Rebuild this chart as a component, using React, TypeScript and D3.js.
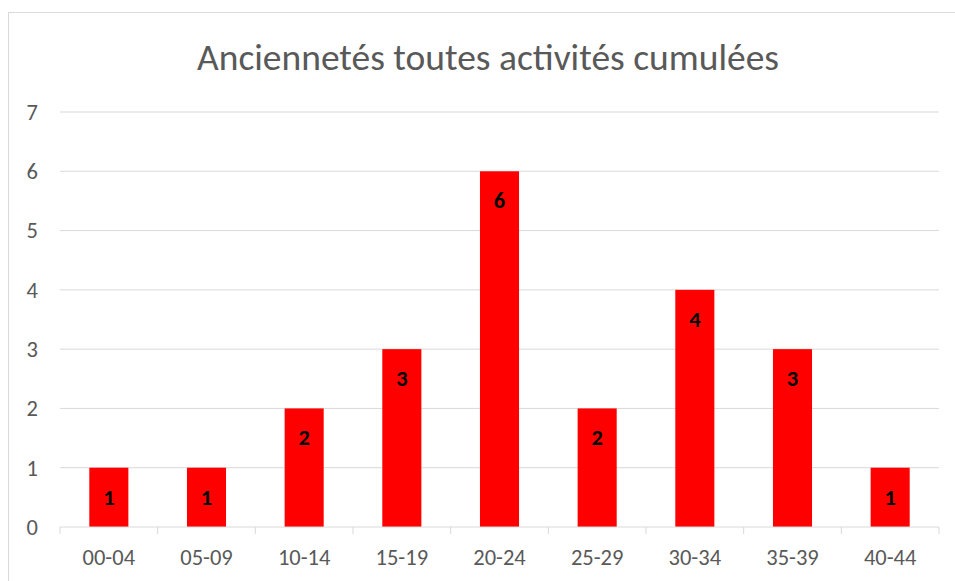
import React from "react";
import * as d3 from "d3";

const categories = ["00-04", "05-09", "10-14", "15-19", "20-24", "25-29", "30-34", "35-39", "40-44"];
const values = [1, 1, 2, 3, 6, 2, 4, 3, 1];
const yTicks = [0, 1, 2, 3, 4, 5, 6, 7];
const title = "Anciennetés toutes activités cumulées";

export default function App() {
  const W = 955, H = 581;
  const left = 60, right = 939, top = 112, bottom = 527;
  const x = d3.scaleBand<string>().domain(categories).range([left, right]).paddingInner(0.6).paddingOuter(0.3);
  const y = d3.scaleLinear().domain([0, 7]).range([bottom, top]);
  const step = (right - left) / categories.length;
  const font = "Calibri, Carlito, 'Liberation Sans', Arial, sans-serif";
  return (
    <svg width={W} height={H} style={{ position: "absolute", left: 0, top: 0, background: "#fff" }} fontFamily={font}>
      <rect x={8.5} y={12.5} width={960} height={600} fill="#fff" stroke="#d9d9d9" />
      <text x={488} y={70} textAnchor="middle" fontSize={37.5} fill="#595959">{title}</text>
      {yTicks.map((t) => (
        <g key={t}>
          {t > 0 && <line x1={left} x2={right} y1={y(t)} y2={y(t)} stroke="#d9d9d9" strokeWidth={1} />}
          <text x={38} y={y(t)} dy="0.35em" textAnchor="end" fontSize={22.5} fill="#595959">{t}</text>
        </g>
      ))}
      {categories.map((c, i) => (
        <rect key={c} x={x(c)} y={y(values[i])} width={x.bandwidth()} height={bottom - y(values[i])} fill="#ff0000" />
      ))}
      <line x1={left} x2={right} y1={bottom} y2={bottom} stroke="#d9d9d9" strokeWidth={1} />
      {d3.range(categories.length + 1).map((i) => (
        <line key={i} x1={left + i * step} x2={left + i * step} y1={bottom} y2={bottom + 7} stroke="#d9d9d9" />
      ))}
      {categories.map((c, i) => (
        <text key={c} x={x(c)! + x.bandwidth() / 2} y={557} dy="0.35em" textAnchor="middle" fontSize={22.5} fill="#595959">{c}</text>
      ))}
      {categories.map((c, i) => (
        <text key={c} x={x(c)! + x.bandwidth() / 2} y={y(values[i]) + 29} dy="0.35em" textAnchor="middle" fontSize={22.5} fontWeight="bold" fill="#000">{values[i]}</text>
      ))}
    </svg>
  );
}
